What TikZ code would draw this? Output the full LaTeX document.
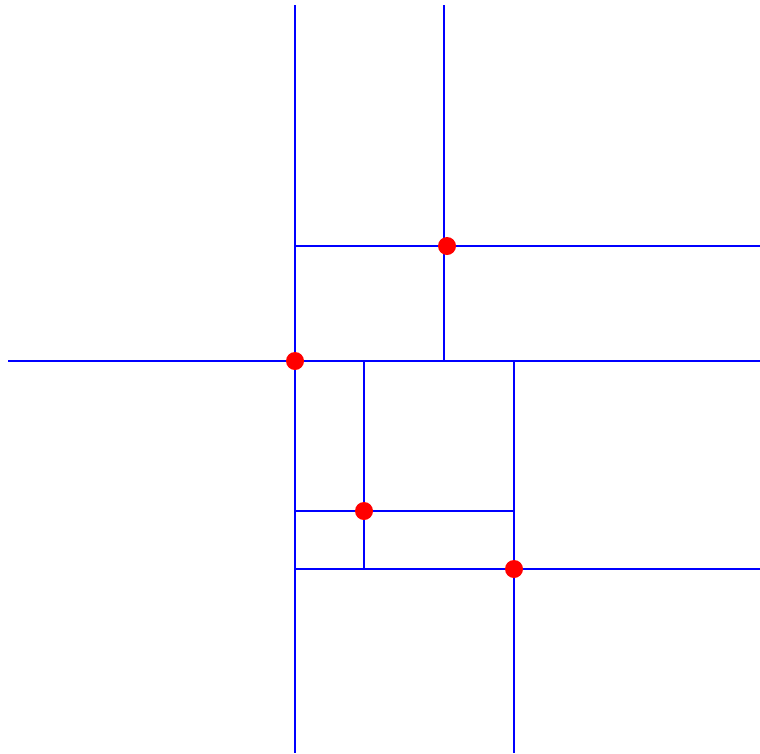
\documentclass[tikz,border=0pt]{standalone}
\begin{document}
\begin{tikzpicture}[x=1pt,y=-1pt,
  split/.style={draw=blue,line width=1.7pt},
  site/.style={circle,fill=red,inner sep=0pt,minimum size=18pt}]
\useasboundingbox (0,0) rectangle (760,753);
% end points of the partition lines
\coordinate (a1) at (295,5);
\coordinate (a2) at (295,753);
\coordinate (b1) at (8,361);
\coordinate (b2) at (760,361);
\coordinate (c1) at (444,5);
\coordinate (c2) at (444,361);
\coordinate (d1) at (295,246);
\coordinate (d2) at (760,246);
\coordinate (e1) at (364,361);
\coordinate (e2) at (364,569);
\coordinate (f1) at (514,361);
\coordinate (f2) at (514,753);
\coordinate (g1) at (295,511);
\coordinate (g2) at (514,511);
\coordinate (h1) at (295,569);
\coordinate (h2) at (760,569);
% partition lines
\path[split] (a1) -- (a2) (b1) -- (b2) (c1) -- (c2) (d1) -- (d2)
  (e1) -- (e2) (f1) -- (f2) (g1) -- (g2) (h1) -- (h2);
% splitting points, drawn on top of the lines
\node[site] (p1) at (295,361) {};
\node[site] (p2) at (447,246) {};
\node[site] (p3) at (364,511) {};
\node[site] (p4) at (514,569) {};
\end{tikzpicture}
\end{document}
